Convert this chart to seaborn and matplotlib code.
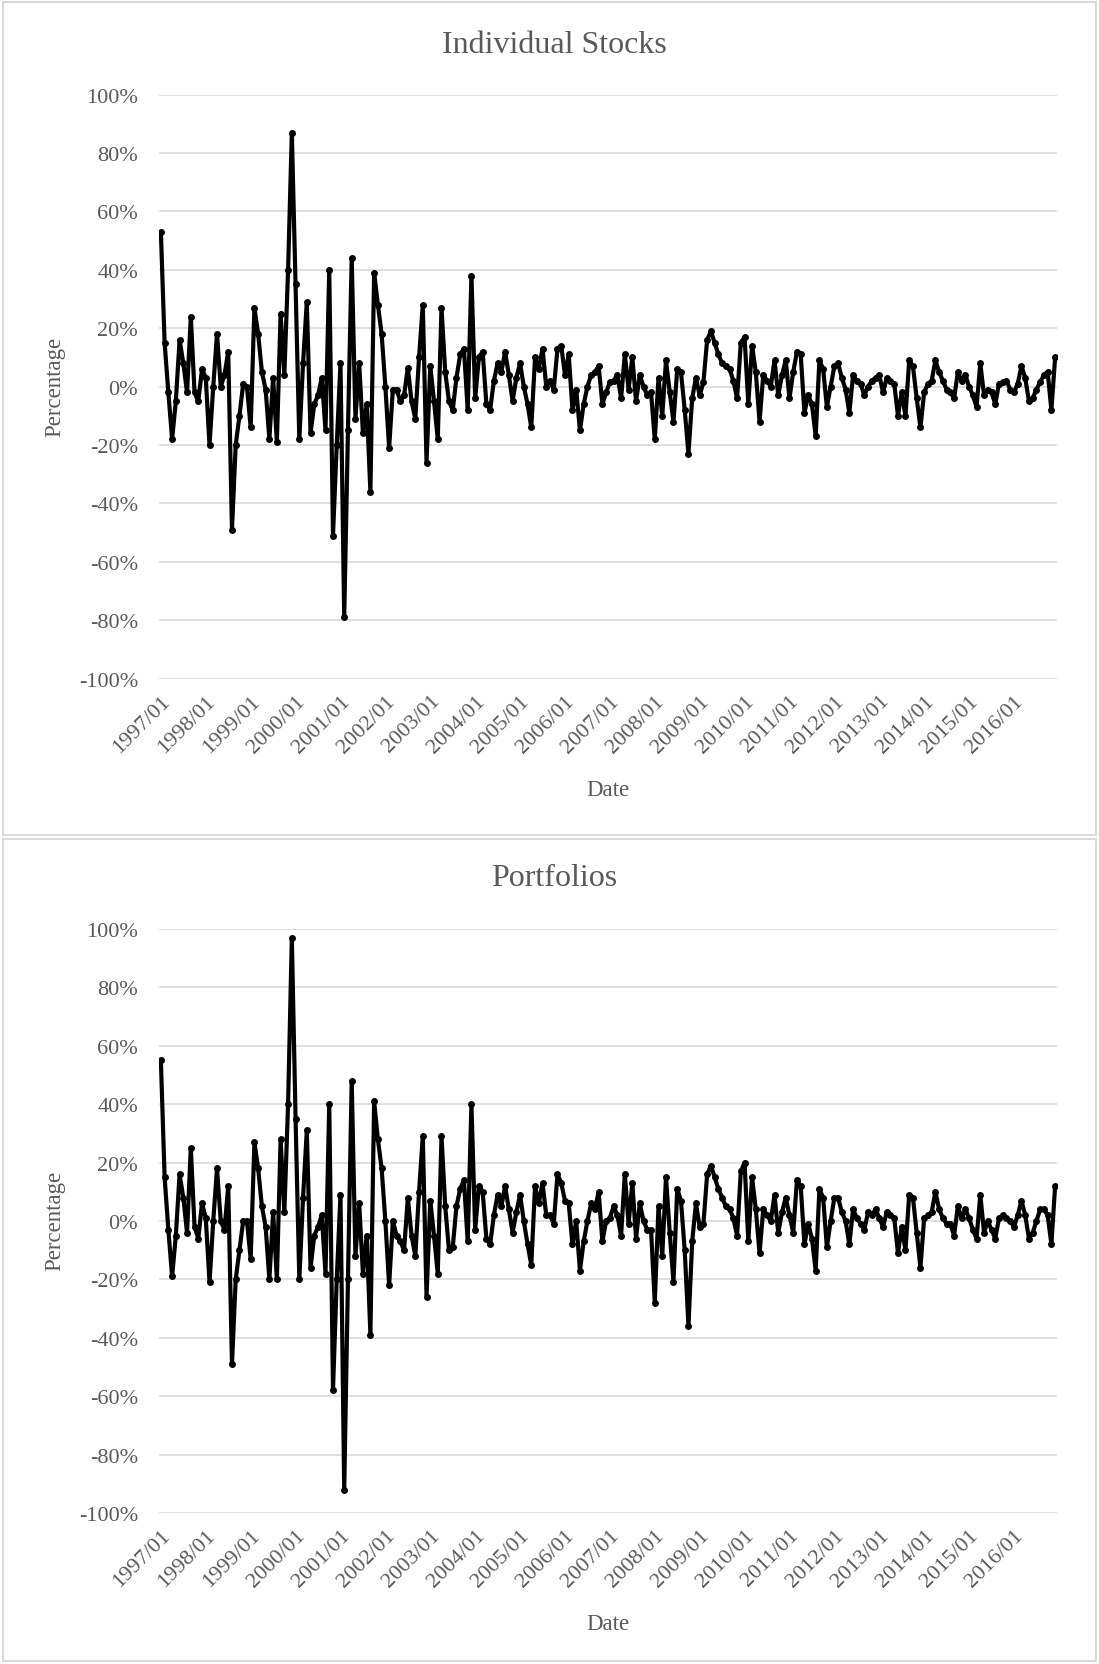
import numpy as np
import pandas as pd
import matplotlib
matplotlib.use("Agg")
import matplotlib.pyplot as plt
from matplotlib.patches import Rectangle
from matplotlib.ticker import PercentFormatter, FixedLocator
import seaborn as sns

# monthly values in percent, 1997/01 .. 2016/12
stocks = [
    53, 15, -2, -18, -5, 16, 8, -2, 24, -2, -5, 6, 3, -20, 0, 18, 0, 4, 12, -49,
    -20, -10, 1, 0, -14, 27, 18, 5, -1, -18, 3, -19, 25, 4, 40, 87, 35, -18, 8, 29,
    -16, -6, -3, 3, -15, 40, -51, -20, 8, -79, -15, 44, -11, 8, -16, -6, -36, 39, 28, 18,
    0, -21, -1, -1, -5, -3, 6.5, -5, -11, 10, 28, -26, 7, -5, -18, 27, 5, -5, -8, 3,
    11, 13, -8, 38, -4, 10, 12, -6, -8, 2, 8, 5, 12, 4, -5, 3, 8, 0, -6, -14,
    10, 6, 13, 0, 2, -1, 13, 14, 4, 11, -8, -1, -15, -6, 0, 4, 5, 7, -6, -2,
    1.5, 2, 4, -4, 11, -1, 10, -5, 4, 0, -3, -2, -18, 3, -10, 9, -2, -12, 6, 5,
    -8, -23, -4, 3, -3, 1.5, 16, 19, 15, 11, 8, 7, 6, 2, -4, 15, 17, -6, 14, 5,
    -12, 4, 2, 0, 9, -3, 4, 9, -4, 5, 12, 11, -9, -3, -6, -17, 9, 6, -7, 0,
    7, 8, 3, -1, -9, 4, 2, 1, -3, 0, 2, 3, 4, -2, 3, 2, 1, -10, -2, -10,
    9, 7, -4, -14, -2, 1, 2, 9, 5, 2, -1, -2, -4, 5, 2, 4, 0, -3, -7, 8,
    -3, -1, -2, -6, 1, 1.5, 2, -1, -2, 1, 7, 3, -5, -4, -1, 1.5, 4, 5, -8, 10,
]

portfolios = [
    55, 15, -3, -19, -5, 16, 8, -4, 25, -2, -6, 6, 1, -21, 0, 18, 0, -3, 12, -49,
    -20, -10, 0, 0, -13, 27, 18, 5, -2, -20, 3, -20, 28, 3, 40, 97, 35, -20, 8, 31,
    -16, -5, -2, 2, -18, 40, -58, -20, 9, -92, -20, 48, -12, 6, -18, -5, -39, 41, 28, 18,
    0, -22, 0, -5, -7, -10, 8, -5, -12, 10, 29, -26, 7, -5, -18, 29, 5, -10, -9, 5,
    11, 14, -7, 40, -3, 12, 10, -6, -8, 2, 9, 5, 12, 4, -4, 3, 9, 0, -8, -15,
    12, 6, 13, 2, 2, -1, 16, 13, 7, 6, -8, 0, -17, -7, 0, 6, 4, 10, -7, 0,
    1, 5, 2, -5, 16, -1, 13, -6, 6, 0, -3, -3, -28, 5, -12, 15, -4, -21, 11, 7,
    -10, -36, -7, 6, -2, -1, 16, 19, 15, 11, 8, 5, 4, 1, -5, 17, 20, -7, 15, 4,
    -11, 4, 2, 0, 9, -4, 3, 8, 2, -4, 14, 12, -8, -1, -6, -17, 11, 8, -9, 0,
    8, 8, 3, 0, -8, 4, 1, -1, -3, 3, 2, 4, 1, -2, 3, 2, 1, -11, -2, -10,
    9, 8, -4, -16, 1, 2, 3, 10, 4, 1, -1, -1, -5, 5, 1, 4, 1, -3, -6, 9,
    -4, 0, -3, -6, 1, 2, 1, 0, -2, 2, 7, 2, -6, -4, 0, 4, 4, 2, -8, 12,
]

years = list(range(1997, 2017))
tick_labels = [f"{y}/01" for y in years]
panel_titles = ["Individual Stocks", "Portfolios"]

sns.set_style("white")
plt.rcParams["font.family"] = ["Liberation Serif", "DejaVu Serif"]
plt.rcParams["axes.unicode_minus"] = False

TXT = "#595959"
GRID = "#d9d9d9"

W, H = 1099, 1665
fig = plt.figure(figsize=(W / 100, H / 100), dpi=100)

# panel frames
for (y0, y1) in [(3, 836), (840, 1662)]:
    fig.patches.append(Rectangle((3 / W, 1 - y1 / H), (1093) / W, (y1 - y0) / H,
                                 transform=fig.transFigure, fill=False,
                                 edgecolor=GRID, linewidth=1.5))

layout = [
    # axes top, axes bottom, title y, date y, percentage y (pixels)
    (95.6, 679.6, 45.7, 791, 387),
    (930, 1514, 879, 1625, 1221),
]

for series, title, (ax_top, ax_bot, t_y, d_y, p_y) in zip([stocks, portfolios], panel_titles, layout):
    df = pd.DataFrame({"month": np.arange(len(series)), "pct": series})
    ax = fig.add_axes([159 / W, 1 - ax_bot / H, 898 / W, (ax_bot - ax_top) / H])
    sns.lineplot(data=df, x="month", y="pct", ax=ax, color="black", linewidth=3.0,
                 marker="o", markersize=5, markeredgewidth=0)
    ax.set_ylim(-100, 100)
    ax.set_xlim(-0.5, len(series) - 0.5)
    ax.yaxis.set_major_locator(FixedLocator(np.arange(-100, 101, 20)))
    ax.yaxis.set_major_formatter(PercentFormatter(xmax=100, decimals=0))
    ax.set_xticks(np.arange(0, len(series), 12))
    ax.set_xticklabels(tick_labels, rotation=45, ha="right", rotation_mode="anchor")
    ax.grid(axis="y", color=GRID, linewidth=1.2)
    ax.set_axisbelow(True)
    for s in ax.spines.values():
        s.set_visible(False)
    ax.tick_params(axis="both", length=0, labelsize=16, colors=TXT)
    ax.tick_params(axis="y", pad=15)
    ax.tick_params(axis="x", pad=9)
    ax.set_xlabel("")
    ax.set_ylabel("")
    fig.text(554 / W, 1 - t_y / H, title, ha="center", va="center", fontsize=23, color=TXT)
    fig.text(608 / W, 1 - d_y / H, "Date", ha="center", va="center", fontsize=16.5, color=TXT)
    fig.text(55 / W, 1 - p_y / H, "Percentage", ha="center", va="center", rotation=90,
             fontsize=16.5, color=TXT)

fig.savefig("out.png", dpi=100)
